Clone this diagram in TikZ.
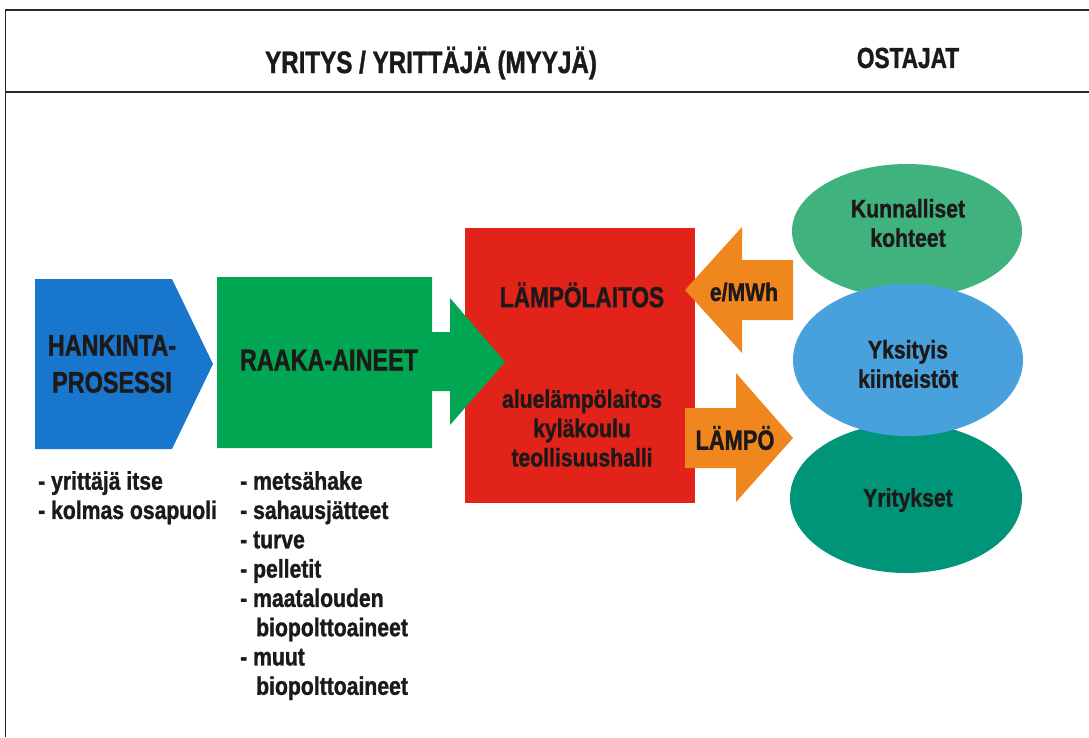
\documentclass[tikz,border=0pt]{standalone}
\usepackage{fontspec}
\setmainfont{Liberation Sans}
\newfontfamily\hfont{Liberation Sans}[FakeStretch=0.78, FakeBold=1.2]
\newfontfamily\lfont{Liberation Sans}[FakeStretch=0.83, FakeBold=1.2]
\definecolor{ink}{RGB}{30,25,25}
\definecolor{framegray}{RGB}{40,40,40}
\definecolor{pblue}{RGB}{25,118,205}
\definecolor{pgreen}{RGB}{0,166,81}
\definecolor{pred}{RGB}{226,35,26}
\definecolor{porange}{RGB}{240,135,30}
\definecolor{etop}{RGB}{64,178,125}
\definecolor{emid}{RGB}{72,160,220}
\definecolor{ebot}{RGB}{0,148,120}
\begin{document}
\begin{tikzpicture}[x=1pt,y=-1pt,
  captext/.style={font=\hfont\bfseries\fontsize{30}{37}\selectfont, text=ink, align=center, inner sep=0pt},
  lowtext/.style={font=\lfont\bfseries\fontsize{25.5}{29.3}\selectfont, text=ink, inner sep=0pt},
  frameline/.style={line width=1.6pt, draw=framegray}]
\useasboundingbox (0,0) rectangle (1089,737);
\fill[white] (0,0) rectangle (1089,737);
% frame
\draw[frameline] (5.5,737) -- (5.5,10) -- (1089,10);
\draw[frameline] (5.5,92) -- (1089,92);
% headers
\node[captext, font=\hfont\bfseries\fontsize{31}{36}\selectfont] (seller) at (431,63) {YRITYS / YRITTÄJÄ (MYYJÄ)};
\node[captext, font=\hfont\bfseries\fontsize{29}{36}\selectfont] (buyers) at (908,58) {OSTAJAT};
% blue pentagon
\fill[pblue] (35,279) -- (172,279) -- (213,364) -- (172,449) -- (35,449) -- cycle;
\node[captext] (hank) at (112,364) {HANKINTA-\\PROSESSI};
% red plant
\fill[pred] (465,228) rectangle (695,503);
% green block with arrow
\fill[pgreen] (217,277) -- (432,277) -- (432,332) -- (450,332) -- (450,298) -- (505,362)
  -- (450,425) -- (450,391) -- (432,391) -- (432,448) -- (217,448) -- cycle;
\node[captext] (raaka) at (329,360) {RAAKA-AINEET};
\node[captext, font=\hfont\bfseries\fontsize{29}{36}\selectfont] (plant) at (582,295) {LÄMPÖLAITOS};
\node[lowtext, align=center] (types) at (582,428) {aluelämpölaitos\\kyläkoulu\\teollisuushalli};
% orange arrows
\fill[porange] (685,290) -- (742,227) -- (742,260) -- (793,260) -- (793,320) -- (742,320) -- (742,353) -- cycle;
\node[lowtext] (price) at (744,292) {e/MWh};
\fill[porange] (685,408) -- (736,408) -- (736,373) -- (793,438) -- (736,502) -- (736,468) -- (685,468) -- cycle;
\node[captext, font=\hfont\bfseries\fontsize{28}{36}\selectfont] (heat) at (735,438) {LÄMPÖ};
% ellipses
\fill[etop] (907,231) ellipse [x radius=115, y radius=67];
\fill[ebot] (906,498) ellipse [x radius=116, y radius=75];
\fill[emid] (908,360) ellipse [x radius=115, y radius=76];
\node[lowtext, align=center] (kunn) at (908,223) {Kunnalliset\\kohteet};
\node[lowtext, align=center] (yks) at (908,364) {Yksityis\\kiinteistöt};
\node[lowtext] (yrit) at (908,500) {Yritykset};
% lists
\node[lowtext, align=left, anchor=north west] (list1) at (38,471) {- yrittäjä itse\\- kolmas osapuoli};
\node[lowtext, align=left, anchor=north west] (list2) at (240,471) {- metsähake\\- sahausjätteet\\- turve\\- pelletit\\- maatalouden\\\hspace*{16pt}biopolttoaineet\\- muut\\\hspace*{16pt}biopolttoaineet};
\end{tikzpicture}
\end{document}
